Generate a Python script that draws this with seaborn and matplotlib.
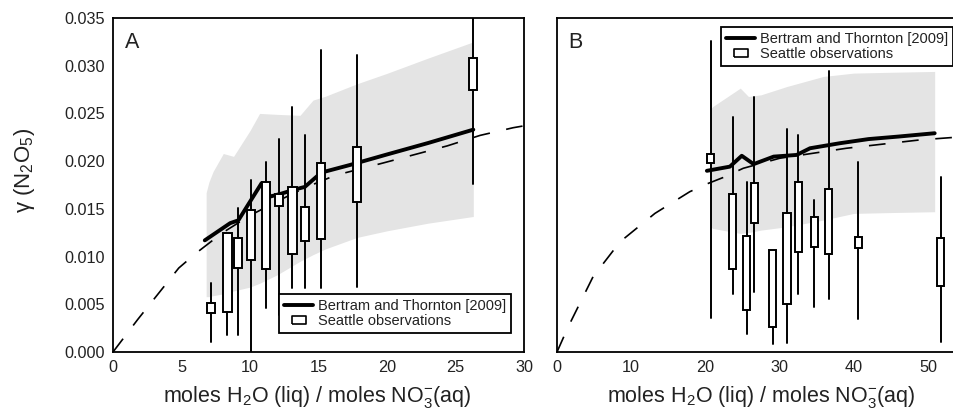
import numpy as np
import pandas as pd
import matplotlib
matplotlib.use("Agg")
import matplotlib.pyplot as plt
import seaborn as sns
from matplotlib.lines import Line2D
from matplotlib.ticker import FormatStrFormatter, MultipleLocator

# ---------------- data ----------------
# Panel A: model band
bandA_x = [6.8, 7.0, 7.3, 8.05, 8.8, 10.0, 10.7, 12.0, 13.65, 14.6, 15.5, 17.8, 20.0, 23.0, 26.3]
bandA_hi = [0.0167, 0.0178, 0.0189, 0.0208, 0.0205, 0.0232, 0.0250, 0.0249, 0.0248, 0.0264, 0.0268, 0.0281, 0.0292, 0.0308, 0.0325]
bandA_lo = [0.0058, 0.0058, 0.0059, 0.0061, 0.0064, 0.0068, 0.0072, 0.0081, 0.0095, 0.0102, 0.0108, 0.0120, 0.0127, 0.0135, 0.0142]

# Panel A: Bertram and Thornton [2009] (solid)
bt_A_x = [6.7, 8.55, 9.15, 10.85, 11.5, 12.3, 13.2, 14.0, 15.2, 17.3, 20.0, 23.0, 26.3]
bt_A_y = [0.0117, 0.0135, 0.0138, 0.0177, 0.0163, 0.0166, 0.0170, 0.0173, 0.0188, 0.0196, 0.0207, 0.0219, 0.0233]

# Panel A: dashed curve
dash_A_x = [0, 1.8, 4.8, 6.1, 8.0, 10.0, 12.0, 14.0, 16.2, 19.7, 24.4, 26.8, 29.2, 30.0]
dash_A_y = [0, 0.0034, 0.0088, 0.0104, 0.0125, 0.0143, 0.0158, 0.0172, 0.0185, 0.0198, 0.0216, 0.0227, 0.0235, 0.0237]

# Panel A: Seattle observations (box statistics)
obsA_x = [7.15, 8.35, 9.15, 10.05, 11.15, 12.1, 13.1, 14.0, 15.2, 17.8, 26.3]
obsA_lo = [0.00105, 0.0018, 0.0018, 0.0, 0.0046, 0.0039, 0.0067, 0.0067, 0.0067, 0.0068, 0.0176]
obsA_q1 = [0.0041, 0.0042, 0.0088, 0.0096, 0.0087, 0.0153, 0.0103, 0.0116, 0.0118, 0.0157, 0.0275]
obsA_q3 = [0.0051, 0.0125, 0.0119, 0.0149, 0.0178, 0.0166, 0.0173, 0.0152, 0.0198, 0.0215, 0.0308]
obsA_hi = [0.0072, 0.0125, 0.0151, 0.0180, 0.0199, 0.0223, 0.0257, 0.0227, 0.0316, 0.0311, 0.0350]

# Panel B: model band
bandB_x = [20.6, 21.0, 24.7, 25.8, 27.5, 31.0, 35.9, 40.0, 45.0, 50.9]
bandB_hi = [0.0290, 0.0294, 0.0316, 0.0306, 0.0308, 0.0318, 0.0330, 0.0334, 0.0335, 0.0336]
bandB_lo = [0.0150, 0.0148, 0.0142, 0.0143, 0.0146, 0.0150, 0.0158, 0.0166, 0.0167, 0.0168]

# Panel B: Bertram and Thornton [2009] (solid)
bt_B_x = [20.2, 23.3, 24.9, 26.5, 29.2, 32.3, 34.1, 38.1, 42.0, 46.0, 50.9]
bt_B_y = [0.0217, 0.0222, 0.0235, 0.0225, 0.0234, 0.0236, 0.0244, 0.0250, 0.0255, 0.0258, 0.0262]

# Panel B: dashed curve
dash_B_x = [0, 1.5, 4.85, 8.5, 13.2, 17.9, 20.4, 22.4, 25.1, 30.0, 39.0, 48.9, 55.0]
dash_B_y = [0, 0.0030, 0.0090, 0.0132, 0.0166, 0.0192, 0.0202, 0.0209, 0.0220, 0.0232, 0.0244, 0.0254, 0.0258]

# Panel B: Seattle observations
obsB_x = [20.7, 23.7, 25.6, 26.6, 29.1, 31.0, 32.5, 34.7, 36.6, 40.6, 51.7]
obsB_lo = [0.0041, 0.0069, 0.0021, 0.0072, 0.0010, 0.0011, 0.0069, 0.0054, 0.0064, 0.0040, 0.0012]
obsB_q1 = [0.0226, 0.0099, 0.0050, 0.0155, 0.0030, 0.0058, 0.0120, 0.0126, 0.0117, 0.0124, 0.0079]
obsB_q3 = [0.0237, 0.0189, 0.0139, 0.0202, 0.0122, 0.0167, 0.0204, 0.0162, 0.0195, 0.0138, 0.0136]
obsB_hi = [0.0373, 0.0282, 0.0203, 0.0305, 0.0122, 0.0267, 0.0260, 0.0182, 0.0336, 0.0228, 0.0210]

xlabel = "moles H$_\\mathregular{2}$O (liq) / moles NO$_\\mathregular{3}^\\mathregular{-}$(aq)"
ylabel = "\u03b3 (N$_\\mathregular{2}$O$_\\mathregular{5}$)"
legend_labels = ["Bertram and Thornton [2009]", "Seattle observations"]

# ---------------- style ----------------
sns.set_theme(style="white")
plt.rcParams["font.family"] = ["Liberation Sans", "DejaVu Sans"]
plt.rcParams["mathtext.fontset"] = "custom"
plt.rcParams["mathtext.rm"] = "Liberation Sans"
plt.rcParams["mathtext.it"] = "Liberation Sans:italic"
plt.rcParams["axes.edgecolor"] = "black"
plt.rcParams["axes.linewidth"] = 1.3
plt.rcParams["text.color"] = "#222222"

SHADE = "#e4e4e4"
W, H = 954, 416
fig = plt.figure(figsize=(W / 100, H / 100), dpi=100)
axA = fig.add_axes([113 / W, 64 / H, 411 / W, 334 / H])
axB = fig.add_axes([557 / W, 64 / H, (966 - 557) / W, 334 / H])


def draw_panel(ax, bx, bhi, blo, sx, sy, dx, dy, ox, olo, oq1, oq3, ohi, width):
    ax.fill_between(bx, blo, bhi, color=SHADE, linewidth=0, zorder=1)
    sns.lineplot(x=dx, y=dy, ax=ax, color="black", linewidth=1.2, errorbar=None, zorder=2)
    ax.lines[-1].set_linestyle((0, (10, 10)))
    sns.lineplot(x=sx, y=sy, ax=ax, color="black", linewidth=2.8, errorbar=None, zorder=3)
    stats = [dict(whislo=a, q1=b, med=b, q3=c, whishi=d, fliers=[])
             for a, b, c, d in zip(olo, oq1, oq3, ohi)]
    ax.bxp(stats, positions=ox, widths=width, patch_artist=True, showcaps=False,
           showfliers=False, manage_ticks=False, zorder=4,
           boxprops=dict(facecolor="white", edgecolor="black", linewidth=1.4),
           whiskerprops=dict(color="black", linewidth=1.4),
           medianprops=dict(linewidth=0))
    ax.tick_params(direction="in", length=8.5, width=1.3, colors="black",
                   labelcolor="#222222", labelsize=11.7, pad=6, top=False, right=False)
    ax.set_xlabel("")
    ax.set_ylabel("")
    for s in ax.spines.values():
        s.set_color("black")
        s.set_linewidth(1.3)


draw_panel(axA, bandA_x, bandA_hi, bandA_lo, bt_A_x, bt_A_y, dash_A_x, dash_A_y,
           obsA_x, obsA_lo, obsA_q1, obsA_q3, obsA_hi, 0.6)
draw_panel(axB, bandB_x, bandB_hi, bandB_lo, bt_B_x, bt_B_y, dash_B_x, dash_B_y,
           obsB_x, obsB_lo, obsB_q1, obsB_q3, obsB_hi, 0.95)

axA.set_xlim(0, 30)
axA.set_ylim(0, 0.035)
axA.xaxis.set_major_locator(MultipleLocator(5))
axA.yaxis.set_major_locator(MultipleLocator(0.005))
axA.yaxis.set_major_formatter(FormatStrFormatter("%.3f"))

axB.set_xlim(0, (966 - 557) / 7.42)
axB.set_ylim(0, 0.04)
axB.xaxis.set_major_locator(MultipleLocator(10))
axB.yaxis.set_major_locator(MultipleLocator(0.01))
axB.tick_params(axis="y", labelleft=False)

axA.text(0.029, 0.91, "A", transform=axA.transAxes, fontsize=15.5, ha="left", va="baseline")
axB.text(0.028, 0.91, "B", transform=axB.transAxes, fontsize=15.5, ha="left", va="baseline")

fig.text(317.5 / W, 1 - 402 / H, xlabel, fontsize=15.5, ha="center", va="baseline")
fig.text(761.5 / W, 1 - 402 / H, xlabel, fontsize=15.5, ha="center", va="baseline")
fig.text(25 / W, 1 - 170 / H, ylabel, fontsize=16, ha="center", va="center", rotation=90)

handles = [Line2D([], [], color="black", linewidth=2.8),
           Line2D([], [], linestyle="none", marker=[(-1, -0.6), (1, -0.6), (1, 0.6), (-1, 0.6), (-1, -0.6)],
                  markersize=9.5, markerfacecolor="white", markeredgecolor="black", markeredgewidth=1.2)]

legkw = dict(fontsize=10.5, frameon=True, fancybox=False, framealpha=1, edgecolor="black",
             handlelength=2.0, handletextpad=0.3, borderpad=0.35, labelspacing=0.05,
             borderaxespad=0)
legA = axA.legend(handles, legend_labels, loc="lower right",
                  bbox_to_anchor=(511 / W, 1 - 333 / H), bbox_transform=fig.transFigure, **legkw)
legA.get_frame().set_linewidth(1.3)
legB = axB.legend(handles, legend_labels, loc="upper right",
                  bbox_to_anchor=(953 / W, 1 - 27 / H), bbox_transform=fig.transFigure, **legkw)
legB.get_frame().set_linewidth(1.3)
legA.set_zorder(10)
legB.set_zorder(10)

fig.savefig("out.png", dpi=100)
